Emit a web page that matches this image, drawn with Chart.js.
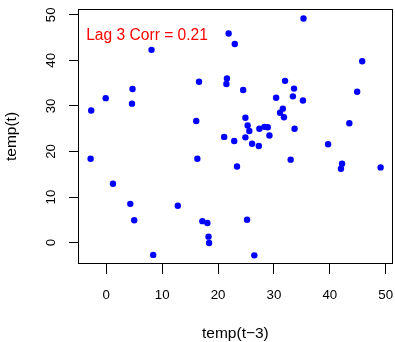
<!DOCTYPE html>
<html>
<head>
<meta charset="utf-8">
<script src="https://cdn.jsdelivr.net/npm/chart.js@4.4.0/dist/chart.umd.min.js"></script>
<style>
  html, body { margin: 0; padding: 0; background: #fff; }
</style>
</head>
<body>
<canvas id="lagPlot" width="395" height="342"></canvas>
<script>
// Datos: temp(t-3) contra temp(t)
const tempLag3 = [-2.7, -0.1, 4.7, 4.6, 8.1, 16.6, 16.1, 21.9, 21.6, 21.5, 21.1, 35.3, 23.0, 45.8,
    32.0, 24.5, 33.6, 44.9, 30.4, 33.4, 35.2, 31.6, 31.1, 31.8, 24.9, 25.3, 25.6, 27.4, 28.3, 28.9,
    33.7, 43.5, 29.2, 22.9, 24.9, 26.1, 27.3, 39.7, 33.0, 23.4, 42.2, 42.0, 49.1, 25.2, 26.5,
    -2.8, 16.3, 1.2, 4.3, 5.0, 12.8, 17.2, 18.1, 18.3, 18.4, 8.4];
const tempNow = [29.0, 31.7, 33.7, 30.5, 42.3, 35.3, 26.7, 45.9, 36.0, 34.8, 23.2, 49.2, 43.6, 39.8,
    35.5, 33.5, 33.8, 33.1, 31.8, 32.1, 31.2, 29.4, 28.5, 27.5, 27.4, 25.7, 24.5, 25.0, 25.4, 25.3,
    25.0, 26.2, 23.5, 22.3, 23.1, 21.7, 21.2, 21.6, 18.2, 16.7, 17.3, 16.2, 16.5, 5.0, -2.8,
    18.4, 18.4, 12.9, 8.5, 4.9, 8.1, 4.7, 4.3, 1.3, -0.1, -2.7];
const xTicks = [0, 10, 20, 30, 40, 50];
const yTicks = [0, 10, 20, 30, 40, 50];
const corrText = 'Lag 3 Corr = 0.21';
const corrPos = [-3.6, 45.4];

const fam = '"Liberation Sans", Arial, Helvetica, sans-serif';

// caja, etiquetas rotadas del eje y y texto de correlacion
const rPlot = {
    id: 'rPlot',
    afterDraw(chart) {
        const ctx = chart.ctx;
        const a = chart.chartArea;
        const sx = chart.scales.x, sy = chart.scales.y;
        ctx.save();
        ctx.strokeStyle = '#000';
        ctx.lineWidth = 1;
        ctx.strokeRect(Math.round(a.left) - 0.5, Math.round(a.top) + 0.5,
            Math.round(a.right - a.left) + 1, Math.round(a.bottom - a.top) - 1);

        ctx.fillStyle = '#000';
        ctx.font = '13.3px ' + fam;
        ctx.textAlign = 'center';
        ctx.textBaseline = 'middle';
        yTicks.forEach(v => {
            ctx.save();
            ctx.translate(51.7, sy.getPixelForValue(v));
            ctx.rotate(-Math.PI / 2);
            ctx.fillText(String(v), 0, 0);
            ctx.restore();
        });

        ctx.fillStyle = '#ff0000';
        ctx.font = '15.6px ' + fam;
        ctx.textAlign = 'left';
        ctx.fillText(corrText, sx.getPixelForValue(corrPos[0]), sy.getPixelForValue(corrPos[1]));
        ctx.restore();
    }
};

const lagChart = new Chart(document.getElementById('lagPlot'), {
    type: 'scatter',
    data: {
        datasets: [{
            data: tempLag3.map((x, i) => ({ x: x, y: tempNow[i] })),
            backgroundColor: '#0000ff',
            borderWidth: 0,
            pointRadius: 3.2,
            pointHoverRadius: 3.2
        }]
    },
    options: {
        responsive: false,
        animation: false,
        events: [],
        layout: { padding: { top: 9, right: 3, left: 0, bottom: 0 } },
        plugins: { legend: { display: false }, tooltip: { enabled: false } },
        scales: {
            x: {
                type: 'linear',
                min: -4.88,
                max: 51.1,
                afterBuildTicks: s => { s.ticks = xTicks.map(v => ({ value: v })); },
                afterFit: s => { s.height = 78; s.paddingLeft = 0; s.paddingRight = 0; },
                grid: { drawOnChartArea: false, drawTicks: true, tickLength: 10, color: '#000', lineWidth: 1 },
                border: { display: false },
                ticks: { color: '#000', padding: 13, maxRotation: 0, font: { family: fam, size: 13.3 } },
                title: { display: true, text: 'temp(t\u22123)', color: '#000', padding: { bottom: 1, top: 0 },
                    font: { family: fam, size: 15.5, lineHeight: 1 } }
            },
            y: {
                type: 'linear',
                min: -4.70,
                max: 51.27,
                afterBuildTicks: s => { s.ticks = yTicks.map(v => ({ value: v })); },
                afterFit: s => { s.width = 79; s.paddingTop = 0; s.paddingBottom = 0; },
                grid: { drawOnChartArea: false, drawTicks: true, tickLength: 10, color: '#000', lineWidth: 1 },
                border: { display: false },
                ticks: { color: 'rgba(0,0,0,0)', font: { family: fam, size: 13.3 } },
                title: { display: true, text: 'temp(t)', color: '#000', padding: { top: 4, bottom: 0 },
                    font: { family: fam, size: 15.5, lineHeight: 1 } }
            }
        }
    },
    plugins: [rPlot]
});
</script>
</body>
</html>
